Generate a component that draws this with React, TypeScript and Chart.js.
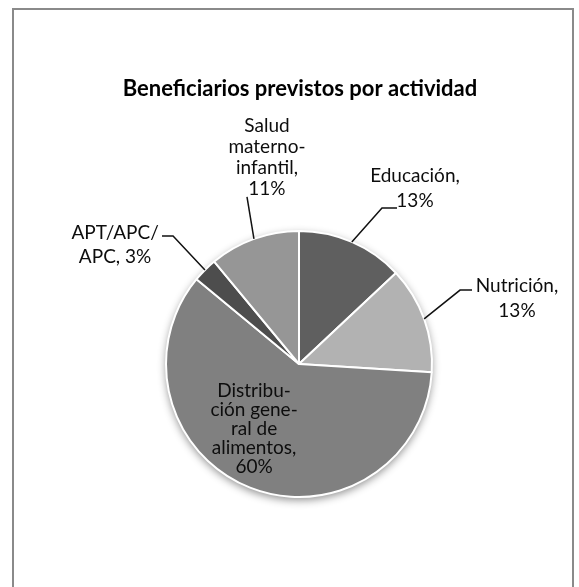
import React, { useEffect, useRef } from "react";
import { Chart, registerables } from "chart.js";

Chart.register(...registerables);

const chartTitle = "Beneficiarios previstos por actividad";
const categories = [
  "Educación",
  "Nutrición",
  "Distribución general de alimentos",
  "APT/APC/APC",
  "Salud materno-infantil",
];
const values = [13, 13, 60, 3, 11];
const sliceColors = ["#5f5f5f", "#b2b2b2", "#808080", "#4d4d4d", "#969696"];
// wrapped label text per category; {p} is replaced by the computed percentage
const labelLines = [
  ["Educación,", "{p}"],
  ["Nutrición,", "{p}"],
  ["Distribu-", "ción gene-", "ral de", "alimentos,", "{p}"],
  ["APT/APC/", "APC, {p}"],
  ["Salud", "materno-", "infantil,", "{p}"],
];

// label layout, in units of the pie radius relative to the pie centre
type LabelLayout = {
  cx: number;
  cy: number;
  lh: number;
  elbow?: [number, number];
  endX?: number;
};
const labelLayout: LabelLayout[] = [
  { cx: 0.872, cy: -1.323, lh: 25, elbow: [0.624, -1.173], endX: 0.737 },
  { cx: 1.639, cy: -0.492, lh: 25, elbow: [1.211, -0.556], endX: 1.301 },
  { cx: -0.338, cy: 0.485, lh: 19 },
  { cx: -1.383, cy: -0.895, lh: 24, elbow: [-0.947, -0.962], endX: -1.03 },
  { cx: -0.241, cy: -1.556, lh: 21, elbow: [-0.391, -1.256] },
];

const FONT = "Lato, 'Open Sans', sans-serif";

const shadowPlugin = {
  id: "pieShadow",
  beforeDatasetsDraw(chart: any) {
    const arc = chart.getDatasetMeta(0).data[0];
    if (!arc) return;
    const { ctx } = chart;
    ctx.save();
    ctx.beginPath();
    ctx.arc(arc.x, arc.y, arc.outerRadius, 0, Math.PI * 2);
    ctx.shadowColor = "rgba(0,0,0,0.45)";
    ctx.shadowBlur = 9;
    ctx.shadowOffsetY = 3;
    ctx.fillStyle = "#ffffff";
    ctx.fill();
    ctx.restore();
  },
};

const labelPlugin = {
  id: "pieLabels",
  afterDatasetsDraw(chart: any) {
    const { ctx } = chart;
    const meta = chart.getDatasetMeta(0);
    const data = chart.data.datasets[0].data as number[];
    const total = data.reduce((a, b) => a + b, 0);
    const first = meta.data[0];
    const ox = first.x;
    const oy = first.y;
    const r = first.outerRadius;

    ctx.save();
    // title
    ctx.fillStyle = "#000";
    ctx.font = `bold 22px ${FONT}`;
    ctx.textAlign = "center";
    ctx.textBaseline = "middle";
    ctx.fillText(chartTitle, ox + 1, 89);

    meta.data.forEach((arc: any, i: number) => {
      const lay = labelLayout[i];
      const pct = Math.round((data[i] / total) * 100) + "%";
      const lines = labelLines[i].map((s) => s.replace("{p}", pct));
      const mid = (arc.startAngle + arc.endAngle) / 2;
      const ex = arc.x + Math.cos(mid) * arc.outerRadius;
      const ey = arc.y + Math.sin(mid) * arc.outerRadius;
      if (lay.elbow) {
        ctx.strokeStyle = "#111";
        ctx.lineWidth = 1.5;
        ctx.beginPath();
        ctx.moveTo(ex, ey);
        const bx = ox + lay.elbow[0] * r;
        const by = oy + lay.elbow[1] * r;
        ctx.lineTo(bx, by);
        if (lay.endX !== undefined) ctx.lineTo(ox + lay.endX * r, by);
        ctx.stroke();
      }
      ctx.fillStyle = "#0d0d0d";
      ctx.font = `19px ${FONT}`;
      ctx.textAlign = "center";
      ctx.textBaseline = "middle";
      const bx = ox + lay.cx * r;
      const by = oy + lay.cy * r;
      const y0 = by - ((lines.length - 1) * lay.lh) / 2;
      lines.forEach((ln, k) => ctx.fillText(ln, bx, y0 + k * lay.lh));
    });
    ctx.restore();
  },
};

export default function App() {
  const ref = useRef<HTMLCanvasElement | null>(null);
  useEffect(() => {
    if (!ref.current) return;
    const chart = new Chart(ref.current, {
      type: "pie",
      data: {
        labels: categories,
        datasets: [
          {
            data: values,
            backgroundColor: sliceColors,
            borderColor: "#ffffff",
            borderWidth: 2,
            radius: 133,
          } as any,
        ],
      },
      options: {
        animation: false,
        responsive: false,
        devicePixelRatio: 1,
        layout: { padding: { left: 19, right: 0, top: 141, bottom: 0 } },
        plugins: {
          legend: { display: false },
          title: { display: false },
          tooltip: { enabled: false },
        },
        events: [],
      },
      plugins: [shadowPlugin, labelPlugin],
    });
    return () => chart.destroy();
  }, []);

  return (
    <div style={{ position: "fixed", left: 0, top: 0, width: 579, height: 587, background: "#fff" }}>
      <div
        style={{
          position: "absolute",
          left: 12,
          top: 8,
          width: 558,
          height: 620,
          border: "2px solid #8a8a8a",
          boxSizing: "content-box",
        }}
      />
      <canvas
        ref={ref}
        width={579}
        height={587}
        style={{ position: "absolute", left: 0, top: 0, width: 579, height: 587 }}
      />
    </div>
  );
}
